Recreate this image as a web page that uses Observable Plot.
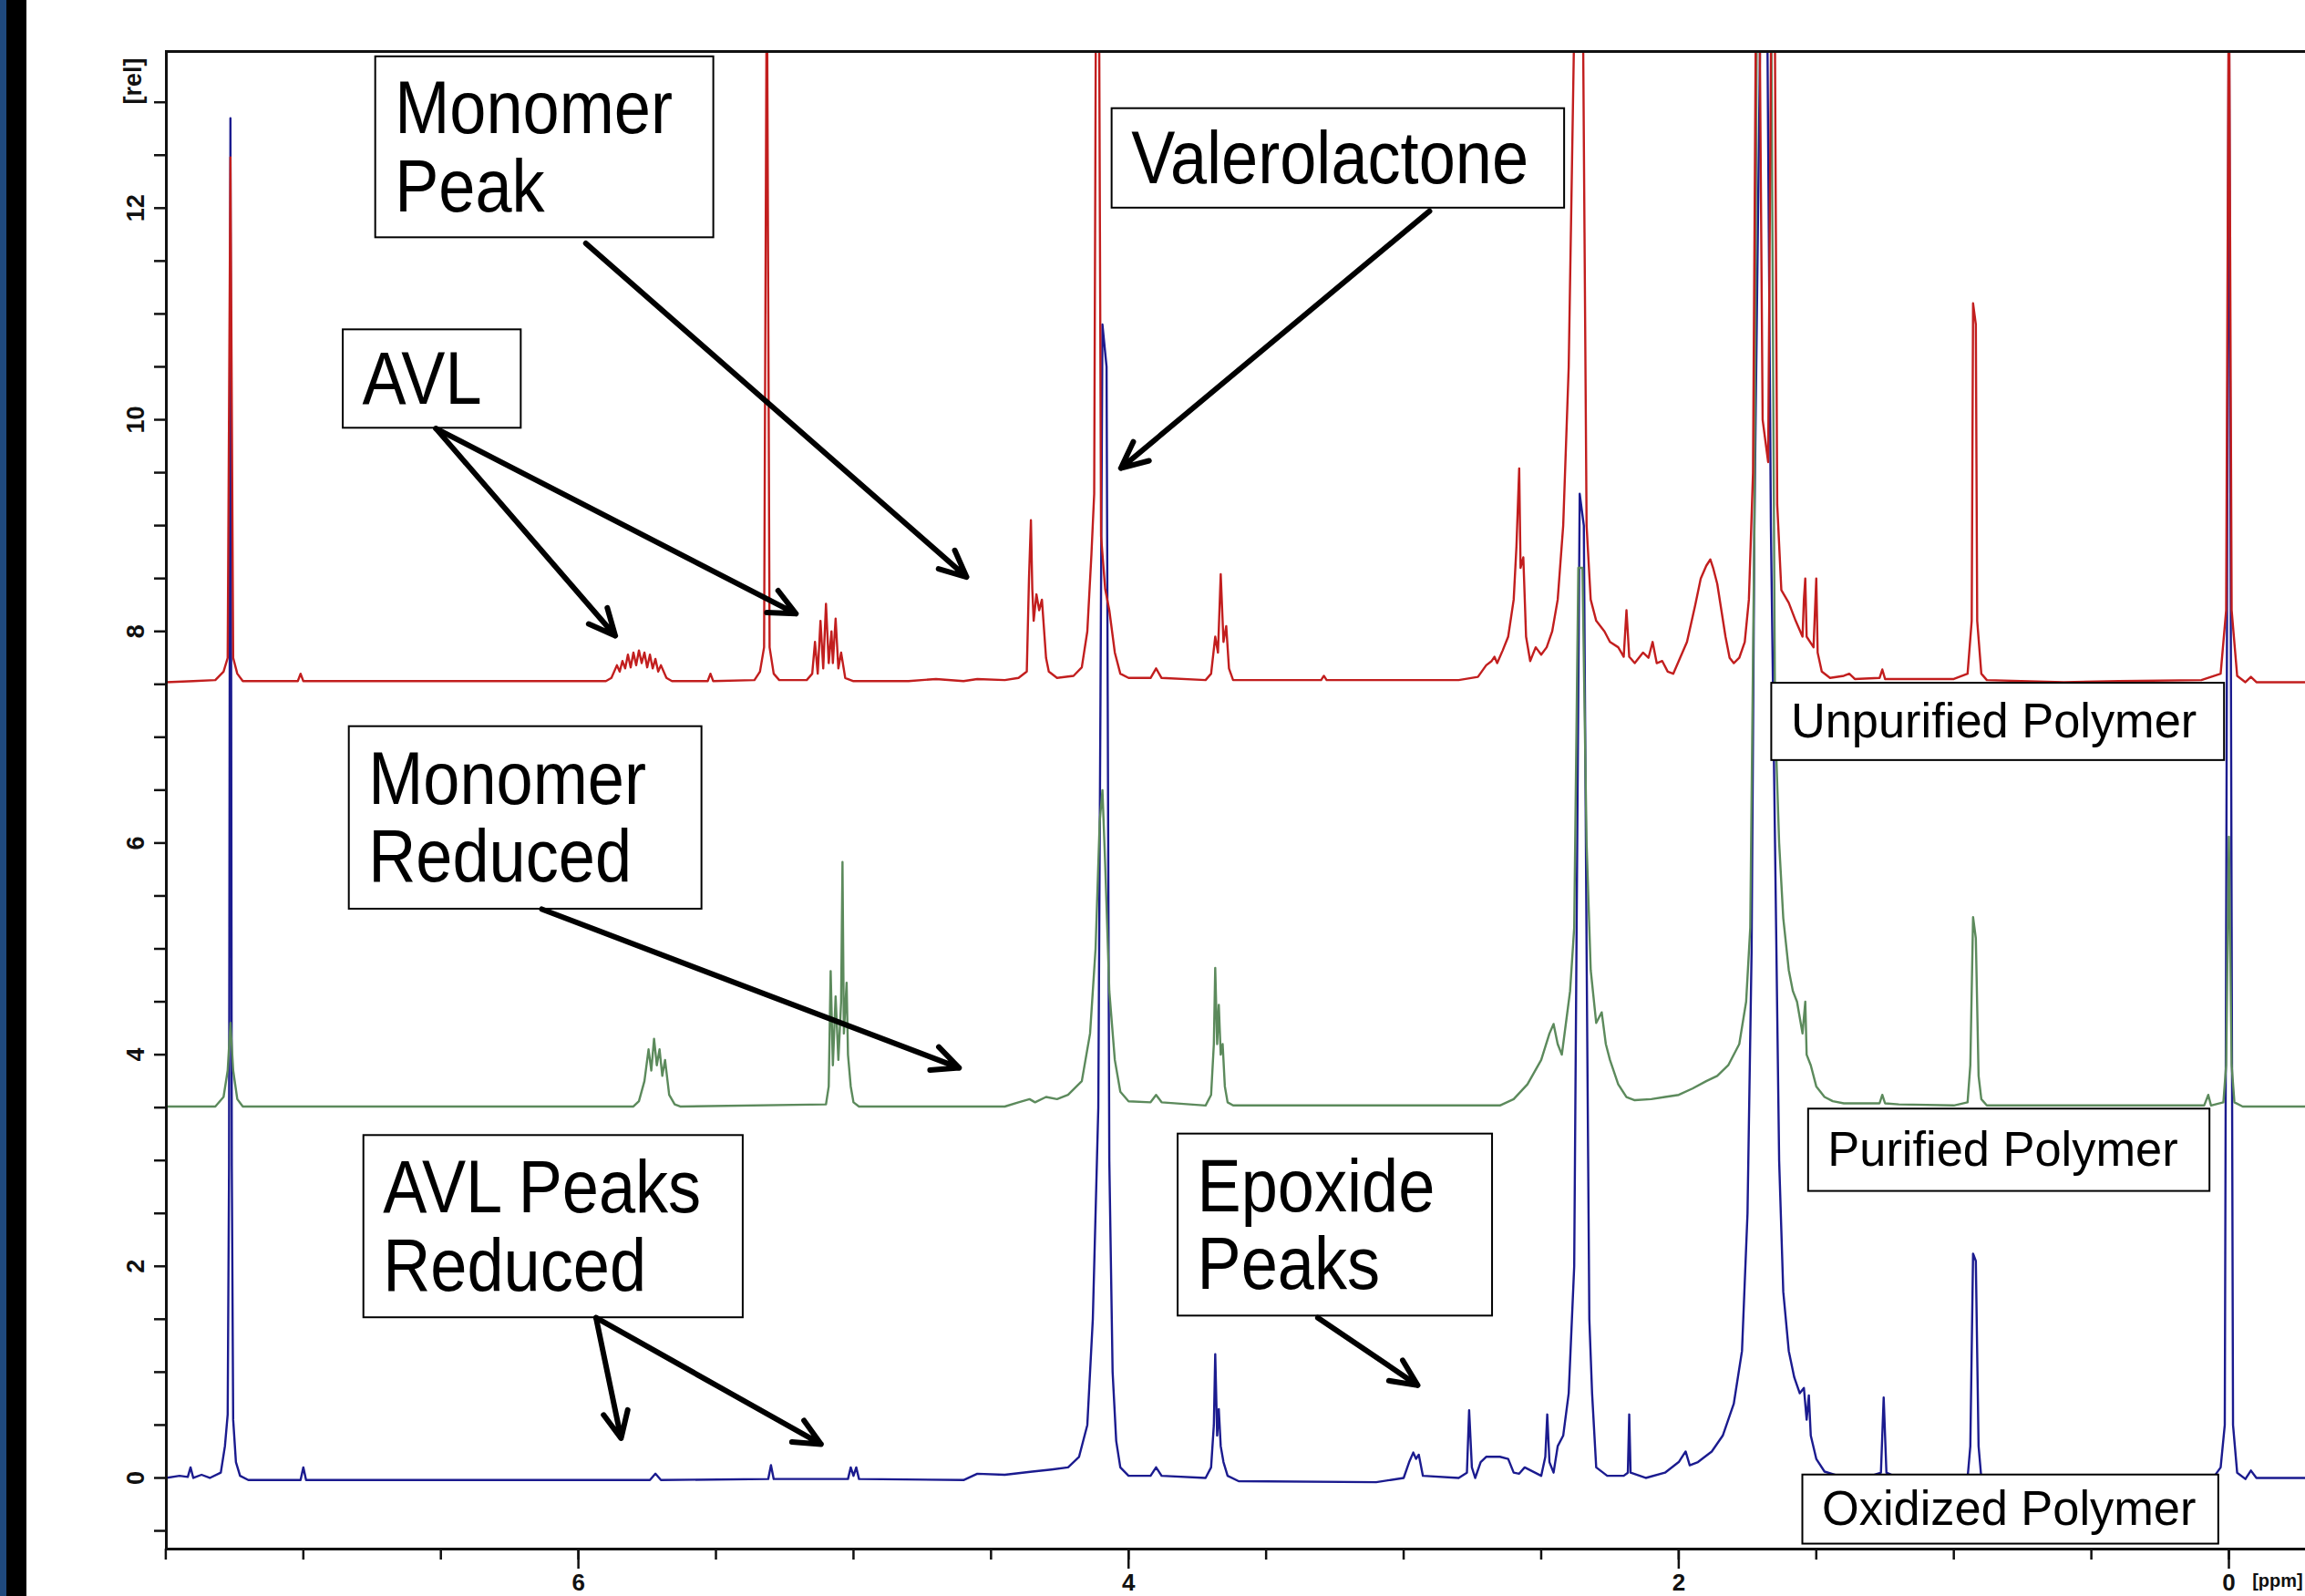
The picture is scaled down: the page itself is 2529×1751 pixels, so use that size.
<!DOCTYPE html>
<html><head><meta charset="utf-8">
<script src="https://cdn.jsdelivr.net/npm/d3@7"></script>
<script src="https://cdn.jsdelivr.net/npm/@observablehq/plot@0.6"></script>
<style>
html,body{margin:0;padding:0;background:#fff;overflow:hidden;width:2529px;height:1751px;}
#wrap{position:relative;width:2529px;height:1751px;overflow:hidden;background:#fff;}
#chart{position:absolute;left:0;top:0;width:2560px;height:1760px;}
#chart svg{max-width:none !important;width:2560px !important;height:1760px !important;}
#bar1{position:absolute;left:0;top:0;width:7px;height:1751px;background:#1F497D;}
#bar2{position:absolute;left:7px;top:0;width:22px;height:1751px;background:#000;}
</style></head><body>
<div id="wrap"><div id="chart"></div><div id="bar1"></div><div id="bar2"></div></div>
<script>
// ---- data: [chemical shift (ppm), intensity (rel)] ----
const unpurified = [
  [7.50,7.52],[7.40,7.53],[7.32,7.54],[7.29,7.62],[7.275,7.75],[7.265,12.48],[7.255,7.75],[7.24,7.60],[7.22,7.53],
  [7.02,7.53],[7.01,7.60],[7.00,7.53],[5.90,7.53],[5.88,7.56],[5.86,7.68],[5.85,7.62],[5.84,7.72],[5.83,7.65],[5.82,7.78],
  [5.81,7.66],[5.80,7.80],[5.79,7.68],[5.78,7.82],[5.77,7.70],[5.76,7.80],[5.75,7.66],[5.74,7.78],[5.73,7.65],[5.72,7.74],
  [5.71,7.62],[5.70,7.68],[5.68,7.56],[5.66,7.53],[5.53,7.53],[5.52,7.60],[5.51,7.53],[5.36,7.54],[5.34,7.62],[5.325,7.85],
  [5.315,14.5],[5.305,7.85],[5.29,7.60],[5.27,7.54],[5.17,7.54],[5.15,7.60],[5.14,7.90],[5.13,7.60],[5.12,8.10],[5.11,7.65],
  [5.10,8.26],[5.09,7.70],[5.08,8.00],[5.075,7.70],[5.065,8.12],[5.055,7.65],[5.045,7.80],[5.03,7.56],[5.00,7.53],
  [4.80,7.53],[4.70,7.55],[4.60,7.53],[4.55,7.55],[4.45,7.54],[4.40,7.56],[4.37,7.62],[4.362,8.5],[4.355,9.05],[4.35,8.4],
  [4.345,8.1],[4.335,8.35],[4.325,8.2],[4.315,8.3],[4.30,7.75],[4.29,7.62],[4.26,7.56],[4.20,7.58],[4.17,7.66],[4.15,8.0],
  [4.135,8.73],[4.125,9.3],[4.118,14.5],[4.108,14.5],[4.10,8.9],[4.085,8.4],[4.07,8.2],[4.05,7.8],[4.03,7.6],[4.00,7.56],[3.92,7.56],
  [3.90,7.65],[3.88,7.56],[3.72,7.54],[3.70,7.60],[3.685,7.95],[3.675,7.80],[3.665,8.54],[3.655,7.90],[3.645,8.05],[3.635,7.65],
  [3.62,7.54],[3.30,7.54],[3.29,7.58],[3.28,7.54],[2.80,7.54],[2.73,7.57],[2.70,7.68],[2.68,7.72],[2.67,7.76],[2.66,7.70],
  [2.64,7.82],[2.62,7.95],[2.60,8.3],[2.59,8.8],[2.58,9.54],[2.575,8.6],[2.565,8.7],[2.555,7.95],[2.54,7.72],[2.52,7.85],
  [2.50,7.78],[2.48,7.85],[2.46,8.0],[2.44,8.3],[2.42,9.0],[2.40,10.5],[2.375,14.5],[2.36,14.5],[2.35,14.5],[2.335,9.0],
  [2.32,8.3],[2.30,8.1],[2.27,8.0],[2.25,7.9],[2.22,7.85],[2.20,7.76],[2.19,8.2],[2.18,7.76],[2.16,7.70],[2.13,7.80],
  [2.11,7.75],[2.095,7.90],[2.08,7.70],[2.06,7.72],[2.04,7.62],[2.02,7.60],[2.00,7.72],[1.97,7.90],[1.94,8.25],[1.92,8.5],
  [1.90,8.62],[1.885,8.68],[1.875,8.6],[1.86,8.45],[1.845,8.2],[1.83,7.95],[1.815,7.75],[1.80,7.70],[1.78,7.75],[1.76,7.9],
  [1.745,8.3],[1.73,9.5],[1.718,14.5],[1.708,14.5],[1.695,10.0],[1.675,9.6],[1.662,14.5],[1.652,14.5],[1.642,9.2],[1.627,8.39],[1.60,8.27],
  [1.575,8.1],[1.55,7.95],[1.545,8.3],[1.54,8.5],[1.535,7.95],[1.51,7.85],[1.50,8.5],[1.495,7.8],[1.48,7.62],[1.45,7.56],
  [1.40,7.58],[1.38,7.60],[1.36,7.55],[1.27,7.56],[1.26,7.64],[1.25,7.55],[1.00,7.55],[0.95,7.60],[0.935,8.1],[0.93,11.1],
  [0.92,10.9],[0.915,8.1],[0.90,7.60],[0.88,7.54],[0.60,7.52],[0.40,7.53],[0.10,7.54],[0.03,7.60],[0.01,8.2],[0.00,14.5],
  [-0.01,8.2],[-0.03,7.58],[-0.06,7.52],[-0.08,7.57],[-0.10,7.52],[-0.38,7.52]
];
const purified = [
  [7.50,3.51],[7.32,3.51],[7.29,3.60],[7.275,3.85],[7.265,4.3],[7.255,3.85],[7.24,3.58],[7.22,3.51],[5.80,3.51],[5.78,3.56],
  [5.76,3.75],[5.745,4.05],[5.735,3.85],[5.725,4.15],[5.715,3.90],[5.705,4.05],[5.695,3.80],[5.685,3.95],[5.67,3.62],[5.65,3.53],
  [5.63,3.51],[5.10,3.53],[5.09,3.70],[5.083,4.79],[5.075,3.90],[5.065,4.55],[5.055,3.95],[5.045,4.50],[5.04,5.82],[5.035,4.20],
  [5.025,4.68],[5.02,4.00],[5.01,3.70],[5.00,3.55],[4.98,3.51],[4.45,3.51],[4.40,3.55],[4.36,3.58],[4.34,3.55],[4.30,3.60],
  [4.26,3.58],[4.22,3.62],[4.17,3.75],[4.14,4.2],[4.12,5.0],[4.105,6.2],[4.095,6.5],[4.085,5.8],[4.07,4.6],[4.05,3.95],
  [4.03,3.65],[4.00,3.56],[3.92,3.55],[3.90,3.62],[3.88,3.55],[3.72,3.52],[3.70,3.62],[3.69,4.10],[3.685,4.82],[3.678,4.10],
  [3.672,4.47],[3.665,4.00],[3.658,4.10],[3.65,3.70],[3.64,3.55],[3.62,3.52],[2.65,3.52],[2.60,3.58],[2.55,3.72],[2.50,3.95],
  [2.47,4.2],[2.455,4.29],[2.44,4.1],[2.425,4.0],[2.41,4.3],[2.395,4.6],[2.38,5.2],[2.365,8.6],[2.35,8.6],[2.335,6.0],
  [2.32,4.8],[2.30,4.3],[2.28,4.4],[2.265,4.1],[2.25,3.95],[2.22,3.72],[2.19,3.60],[2.16,3.57],[2.10,3.58],[2.05,3.60],
  [2.00,3.62],[1.95,3.68],[1.90,3.75],[1.86,3.80],[1.82,3.90],[1.78,4.1],[1.755,4.5],[1.74,5.2],[1.725,9.0],[1.715,14.5],
  [1.70,14.5],[1.68,14.5],[1.665,14.5],[1.65,7.2],[1.635,6.0],[1.62,5.29],[1.60,4.8],[1.585,4.6],[1.57,4.5],[1.56,4.35],
  [1.55,4.2],[1.54,4.5],[1.535,4.0],[1.52,3.9],[1.50,3.7],[1.47,3.6],[1.44,3.56],[1.40,3.54],[1.27,3.54],[1.26,3.62],
  [1.25,3.54],[1.20,3.53],[1.00,3.52],[0.95,3.55],[0.94,3.9],[0.93,5.3],[0.92,5.1],[0.91,3.8],[0.90,3.58],[0.88,3.52],
  [0.09,3.52],[0.075,3.62],[0.065,3.52],[0.02,3.55],[0.01,3.9],[0.00,6.06],[-0.01,3.9],[-0.02,3.55],[-0.05,3.51],[-0.38,3.51]
];
const oxidized = [
  [7.50,0.00],[7.45,0.02],[7.42,0.01],[7.41,0.10],[7.40,0.00],[7.37,0.03],[7.34,0.00],[7.30,0.05],[7.285,0.30],[7.275,0.60],
  [7.27,2.95],[7.265,12.85],[7.26,2.95],[7.255,0.55],[7.245,0.15],[7.23,0.02],[7.20,-0.02],[7.01,-0.02],[7.00,0.10],[6.99,-0.02],[5.74,-0.02],[5.72,0.04],
  [5.70,-0.02],[5.31,-0.01],[5.30,0.12],[5.29,-0.01],[5.02,-0.01],[5.01,0.10],[5.00,0.02],[4.99,0.10],[4.98,-0.01],[4.60,-0.02],
  [4.55,0.04],[4.45,0.03],[4.35,0.06],[4.28,0.08],[4.22,0.10],[4.18,0.20],[4.15,0.50],[4.13,1.5],[4.11,3.5],[4.095,10.9],
  [4.08,10.5],[4.07,3.0],[4.058,1.0],[4.045,0.35],[4.03,0.10],[4.00,0.02],[3.92,0.02],[3.90,0.10],[3.88,0.02],[3.72,0.00],
  [3.70,0.10],[3.69,0.50],[3.685,1.17],[3.678,0.40],[3.672,0.65],[3.665,0.30],[3.655,0.15],[3.64,0.02],[3.60,-0.03],[3.10,-0.04],
  [3.00,0.00],[2.98,0.15],[2.965,0.24],[2.955,0.18],[2.945,0.22],[2.93,0.02],[2.80,0.00],[2.77,0.05],[2.762,0.64],[2.752,0.10],
  [2.74,0.00],[2.72,0.15],[2.70,0.20],[2.65,0.20],[2.62,0.18],[2.60,0.05],[2.58,0.04],[2.56,0.10],[2.50,0.02],[2.485,0.20],
  [2.478,0.60],[2.47,0.15],[2.455,0.05],[2.44,0.30],[2.42,0.40],[2.40,0.80],[2.38,2.0],[2.36,9.3],[2.345,9.0],[2.335,5.0],
  [2.325,1.5],[2.315,0.8],[2.30,0.10],[2.26,0.02],[2.20,0.02],[2.185,0.05],[2.18,0.60],[2.175,0.05],[2.12,0.00],[2.05,0.05],
  [2.00,0.15],[1.975,0.25],[1.96,0.12],[1.93,0.15],[1.88,0.25],[1.84,0.40],[1.80,0.70],[1.77,1.2],[1.75,2.5],[1.735,5.0],
  [1.725,9.0],[1.70,14.5],[1.68,14.5],[1.665,9.0],[1.65,6.0],[1.635,3.0],[1.62,1.76],[1.60,1.2],[1.58,0.95],[1.56,0.80],
  [1.545,0.85],[1.535,0.55],[1.527,0.78],[1.52,0.40],[1.50,0.18],[1.47,0.06],[1.42,0.02],[1.30,0.02],[1.265,0.05],[1.255,0.76],
  [1.245,0.05],[1.20,0.00],[1.00,-0.02],[0.95,0.00],[0.94,0.30],[0.93,2.12],[0.92,2.05],[0.91,0.30],[0.90,0.00],[0.80,-0.02],
  [0.50,-0.03],[0.20,-0.02],[0.06,-0.01],[0.03,0.10],[0.015,0.50],[0.00,14.5],[-0.015,0.50],[-0.03,0.05],[-0.06,-0.01],
  [-0.08,0.07],[-0.10,0.00],[-0.38,0.00]
];
const seriesNames = ["Unpurified Polymer", "Purified Polymer", "Oxidized Polymer"];
const seriesColors = ["#c21e1e", "#5c8a5c", "#1b1b8f"];

// tick values
const yTicks = d3.range(-0.5, 13.01, 0.5);
const xMinorTicks = d3.range(0, 7.51, 0.5);
const xMajorTicks = [6, 4, 2, 0];

// callout boxes (ppm / rel extents) and texts
const calloutBoxes = [
  {label: "Monomer\nPeak", x1: 6.737, x2: 5.508, y1: 11.72, y2: 13.43},
  {label: "Valerolactone", x1: 4.060, x2: 2.415, y1: 12.00, y2: 12.94},
  {label: "AVL", x1: 6.855, x2: 6.208, y1: 9.92, y2: 10.85},
  {label: "Monomer\nReduced", x1: 6.833, x2: 5.551, y1: 5.375, y2: 7.10},
  {label: "AVL Peaks\nReduced", x1: 6.780, x2: 5.401, y1: 1.514, y2: 3.236},
  {label: "Epoxide\nPeaks", x1: 3.820, x2: 2.677, y1: 1.53, y2: 3.25}
];
const sampleBoxes = [
  {label: seriesNames[0], x1: 1.662, x2: 0.016, y1: 6.78, y2: 7.51},
  {label: seriesNames[1], x1: 1.528, x2: 0.069, y1: 2.708, y2: 3.486},
  {label: seriesNames[2], x1: 1.549, x2: 0.037, y1: -0.625, y2: 0.028}
];
const arrows = [
  {x1: 5.973, y1: 11.667, x2: 4.589, y2: 8.514},
  {x1: 2.906, y1: 11.972, x2: 4.028, y2: 9.542},
  {x1: 6.518, y1: 9.917, x2: 5.866, y2: 7.958},
  {x1: 6.518, y1: 9.917, x2: 5.209, y2: 8.167},
  {x1: 6.133, y1: 5.375, x2: 4.616, y2: 3.875},
  {x1: 5.936, y1: 1.514, x2: 5.845, y2: 0.375},
  {x1: 5.936, y1: 1.514, x2: 5.118, y2: 0.319},
  {x1: 3.312, y1: 1.514, x2: 2.949, y2: 0.875}
];

const spectra = [oxidized, purified, unpurified];
const spectraColors = [seriesColors[2], seriesColors[1], seriesColors[0]];
const FONT = "'Liberation Sans', Arial, sans-serif";

const marks = [];
spectra.forEach((s, i) => {
  marks.push(Plot.line(s, {x: d => d[0], y: d => d[1], stroke: spectraColors[i], strokeWidth: 2.4, curve: "linear", clip: true}));
});
marks.push(
  Plot.frame({stroke: "#111", strokeWidth: 3}),
  Plot.axisY({ticks: yTicks, tickSize: 13, tickPadding: 12, tickRotate: -90,
    tickFormat: d => (Math.abs(d % 2) < 1e-9 ? String(d) : ""), fontSize: 27, fontWeight: "bold", label: null, strokeWidth: 2.5}),
  Plot.text(["[rel]"], {frameAnchor: "left", y: 12.98, dx: -36, rotate: -90, fontSize: 27, fontWeight: "bold"}),
  Plot.axisX({ticks: xMinorTicks, tickSize: 12, tickFormat: () => "", label: null, strokeWidth: 2.5}),
  Plot.axisX({ticks: xMajorTicks, tickSize: 22, tickPadding: 5, fontSize: 26, fontWeight: "bold", label: null, strokeWidth: 2.5}),
  Plot.text(["[ppm]"], {x: -0.085, frameAnchor: "bottom", dy: 27, lineAnchor: "top", textAnchor: "start", fontSize: 20, fontWeight: "bold"}),
  Plot.rect(calloutBoxes, {x1: "x1", x2: "x2", y1: "y1", y2: "y2", fill: "white", stroke: "#000", strokeWidth: 2}),
  Plot.rect(sampleBoxes, {x1: "x1", x2: "x2", y1: "y1", y2: "y2", fill: "white", stroke: "#000", strokeWidth: 2}),
  Plot.text(calloutBoxes, {x: "x1", y: d => (d.y1 + d.y2) / 2, text: "label", textAnchor: "start", dx: 21,
    fontSize: 82, lineHeight: 1.04, fill: "#000"}),
  Plot.text(sampleBoxes, {x: "x1", y: d => (d.y1 + d.y2) / 2, text: "label", textAnchor: "start", dx: 21,
    fontSize: 54, fill: "#000"}),
  Plot.arrow(arrows, {x1: "x1", y1: "y1", x2: "x2", y2: "y2", stroke: "#000", strokeWidth: 6, headLength: 8, headAngle: 50})
);

const chart = Plot.plot({
  width: 2560, height: 1760,
  marginLeft: 182, marginRight: 0, marginTop: 56, marginBottom: 61,
  x: {domain: [7.498, -0.381]},
  y: {domain: [-0.672, 13.48]},
  style: {fontFamily: FONT, background: "transparent", color: "#111", maxWidth: "none"},
  marks
});
document.getElementById("chart").appendChild(chart);

// slightly condensed lettering, as in the reference callouts
function condense(size, k) {
  chart.querySelectorAll("text").forEach(t => {
    const fs = parseFloat(getComputedStyle(t).fontSize);
    if (Math.abs(fs - size) > 0.5) return;
    const spans = t.querySelectorAll("tspan");
    const parts = spans.length ? Array.from(spans) : [t];
    parts.forEach(p => {
      const w = p.getComputedTextLength();
      if (w > 0) { p.setAttribute("textLength", (w * k).toFixed(1)); p.setAttribute("lengthAdjust", "spacingAndGlyphs"); }
    });
  });
}
condense(82, 0.88);
condense(54, 0.97);
</script>
</body></html>
